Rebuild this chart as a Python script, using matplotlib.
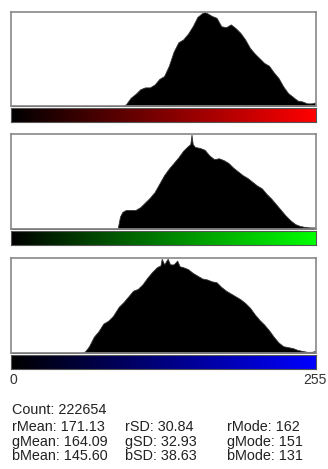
import numpy as np
import matplotlib.pyplot as plt
from matplotlib.colors import LinearSegmentedColormap

# valeurs relatives (100 = mode), par canal
r_bins = [0, 92, 93, 96, 100, 104, 108, 112, 116, 120, 124, 128, 132, 136, 140, 144, 148,
          152, 156, 160, 162, 164, 168, 172, 176, 180, 184, 188, 192, 196, 200, 204, 208,
          212, 216, 220, 224, 228, 232, 236, 240, 244, 248, 252, 255]
r_vals = [0, 0, 0, 2, 9, 13, 18, 20, 20, 23, 29, 32, 43, 58, 68, 71, 77,
          85, 95, 99, 100, 99, 96, 94, 85, 84, 87, 83, 78, 71, 62, 56, 51,
          46, 43, 36, 30, 21, 14, 10, 6, 5, 3, 3, 4]

g_bins = [0, 88, 89, 91, 93, 96, 100, 104, 108, 112, 116, 120, 124, 128, 132, 136, 140,
          144, 148, 150, 151, 152, 154, 158, 162, 166, 170, 174, 178, 182, 186, 190, 194,
          198, 202, 206, 210, 214, 218, 222, 226, 230, 234, 238, 242, 246, 250, 255]
g_vals = [0, 0, 0, 13, 18, 20, 20, 20, 23, 28, 33, 39, 48, 57, 64, 70, 76,
          83, 88, 90, 100, 90, 87, 86, 84, 78, 74, 75, 73, 70, 65, 61, 57,
          54, 50, 46, 43, 37, 32, 26, 20, 14, 9, 5, 3, 2, 1.5, 1.4]

b_bins = [0, 59, 60, 62, 65, 69, 73, 77, 81, 85, 90, 94, 98, 102, 106, 110, 114, 118,
          122, 125, 126, 128, 131, 133, 136, 139, 141, 144, 148, 152, 156, 160, 164, 168,
          172, 176, 180, 184, 188, 192, 196, 200, 204, 208, 212, 216, 220, 224, 228, 232,
          236, 240, 244, 248, 252, 255]
b_vals = [0, 0, 0, 2, 7, 17, 23, 31, 34, 39, 49, 54, 60, 66, 68, 73, 80, 86,
          91, 93, 100, 94, 100, 94, 94, 98, 92, 91, 89, 85, 82, 79, 78, 76,
          75, 70, 66, 63, 60, 57, 53, 48, 41, 35, 30, 24, 17, 11, 7, 6,
          5, 3, 2, 1, 1, 2]

stats = [["Count: 222654", "", ""],
         ["rMean: 171.13", "rSD: 30.84", "rMode: 162"],
         ["gMean: 164.09", "gSD: 32.93", "gMode: 151"],
         ["bMean: 145.60", "bSD: 38.63", "bMode: 131"]]

W, H = 328, 469
fig = plt.figure(figsize=(W / 100, H / 100), dpi=100)
fig.patch.set_facecolor('white')

def box(x0, y0, w, h):
    # coordonnees en pixels depuis le haut -> fraction de figure
    return [x0 / W, 1 - (y0 + h) / H, w / W, h / H]

canaux = [(r_bins, r_vals, 'red', 11.7),
          (g_bins, g_vals, 'lime', 134.3),
          (b_bins, b_vals, 'blue', 258.3)]

for bins, vals, col, top in canaux:
    ax = fig.add_axes(box(11, top, 305, 94.5))
    ax.fill_between(np.array(bins) + 0.5, vals, color='black', lw=0.6, edgecolor='#333333')
    ax.set_xlim(0, 256)
    ax.set_ylim(0, 100.5)
    ax.set_xticks([])
    ax.set_yticks([])
    for s in ax.spines.values():
        s.set_color('#888888')
        s.set_linewidth(1.2)

    # barre de couleur
    cax = fig.add_axes(box(11, top + 96.8, 305, 13.6))
    cmap = LinearSegmentedColormap.from_list('c', ['black', col])
    cax.imshow(np.linspace(0, 1, 256)[None, :], aspect='auto', cmap=cmap)
    cax.set_xticks([])
    cax.set_yticks([])
    for s in cax.spines.values():
        s.set_color('#555555')
        s.set_linewidth(0.8)

fam = ['Liberation Sans', 'DejaVu Sans']
fig.text(9 / W, 1 - 379.5 / H, "0", fontsize=10, family=fam, va='center', ha='left', color='#333333')
fig.text(327 / W, 1 - 379.5 / H, "255", fontsize=10, family=fam, va='center', ha='right', color='#333333')

col_x = [12, 125, 227]
row_y = [410, 427, 441.5, 456]
for i, row in enumerate(stats):
    for j, t in enumerate(row):
        if t:
            fig.text(col_x[j] / W, 1 - row_y[i] / H, t, fontsize=10.4, family=fam,
                     va='center', ha='left', color='#222222')

fig.savefig('out.png', dpi=100)
